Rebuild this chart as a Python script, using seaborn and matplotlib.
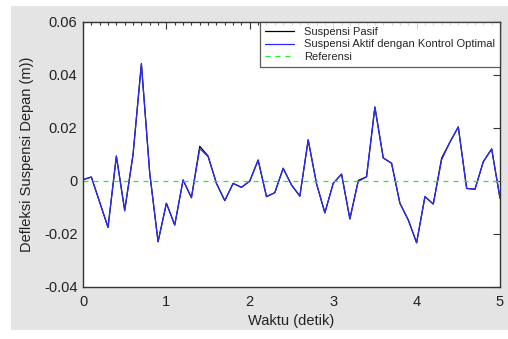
import numpy as np
import pandas as pd
import matplotlib
matplotlib.use("Agg")
import matplotlib.pyplot as plt
import seaborn as sns
from matplotlib.ticker import MultipleLocator
from matplotlib.patches import Rectangle

waktu = [0.0, 0.1, 0.2, 0.3, 0.4, 0.5, 0.6, 0.7, 0.8, 0.9,
         1.0, 1.1, 1.2, 1.3, 1.4, 1.5, 1.6, 1.7, 1.8, 1.9,
         2.0, 2.1, 2.2, 2.3, 2.4, 2.5, 2.6, 2.7, 2.8, 2.9,
         3.0, 3.1, 3.2, 3.3, 3.4, 3.5, 3.6, 3.7, 3.8, 3.9,
         4.0, 4.1, 4.2, 4.3, 4.4, 4.5, 4.6, 4.7, 4.8, 4.9, 5.0]

aktif = [0.0005, 0.0015, -0.008, -0.0175, 0.0094, -0.0113, 0.010, 0.0441, 0.003, -0.0229,
         -0.0084, -0.0166, 0.0004, -0.0063, 0.0122, 0.0092, -0.0009, -0.0074, -0.0009, -0.0024,
         0.0000, 0.0079, -0.0059, -0.0044, 0.0048, -0.0015, -0.0057, 0.0155, -0.001, -0.0120,
         -0.0009, 0.0026, -0.0143, -0.0002, 0.0016, 0.0279, 0.0087, 0.0067, -0.0084, -0.0147,
         -0.0233, -0.0059, -0.0087, 0.0080, 0.0147, 0.0204, -0.0028, -0.0031, 0.0073, 0.0121, -0.0065]

pasif = [0.0005, 0.0015, -0.008, -0.0175, 0.0094, -0.0110, 0.010, 0.0443, 0.003, -0.0229,
         -0.0084, -0.0166, 0.0004, -0.0063, 0.0131, 0.0094, -0.0009, -0.0074, -0.0009, -0.0024,
         0.0000, 0.0079, -0.0059, -0.0044, 0.0048, -0.0015, -0.0057, 0.0155, -0.001, -0.0120,
         -0.0009, 0.0026, -0.0143, 0.0002, 0.0016, 0.0279, 0.0087, 0.0067, -0.0084, -0.0147,
         -0.0233, -0.0059, -0.0087, 0.0086, 0.0147, 0.0204, -0.0028, -0.0031, 0.0073, 0.0121, -0.0065]

referensi = [0.0] * len(waktu)

labels = ["Suspensi Pasif", "Suspensi Aktif dengan Kontrol Optimal", "Referensi"]
ytick_labels = ["-0.04", "-0.02", "0", "0.02", "0.04", "0.06"]
ytick_values = [-0.04, -0.02, 0, 0.02, 0.04, 0.06]

sns.set_style("white")
plt.rcParams['font.family'] = ['Liberation Sans', 'DejaVu Sans']

df = pd.DataFrame({"t": waktu, "pasif": pasif, "aktif": aktif, "ref": referensi})

fig = plt.figure(figsize=(5.08, 3.39), dpi=100)
fig.patch.set_facecolor("white")
fig.patches.append(Rectangle((11 / 508, 1 - 330 / 339), (508 - 11) / 508, (330 - 6) / 339,
                             transform=fig.transFigure, facecolor="#e4e4e4",
                             edgecolor="none", zorder=-10))
ax = fig.add_axes([83 / 508, 1 - 287 / 339, (500 - 83) / 508, (287 - 22) / 339])
ax.set_facecolor("white")

sns.lineplot(data=df, x="t", y="pasif", ax=ax, color="black", lw=0.9, label=labels[0])
sns.lineplot(data=df, x="t", y="aktif", ax=ax, color="#2a2aff", lw=0.9, label=labels[1])
sns.lineplot(data=df, x="t", y="ref", ax=ax, color="#22f022", lw=0.9, label=labels[2],
             linestyle=(0, (4, 4)))

ax.set_xlim(0, 5)
ax.set_ylim(-0.04, 0.06)
ax.xaxis.set_major_locator(MultipleLocator(1))
ax.xaxis.set_minor_locator(MultipleLocator(0.1))
ax.set_yticks(ytick_values)
ax.set_yticklabels(ytick_labels)
ax.tick_params(which="both", direction="in", top=True, right=True, colors="#333333",
               labelcolor="#222222", labelsize=10.5, width=0.8)
ax.tick_params(which="major", length=5)
ax.tick_params(axis="x", which="major", pad=6)
ax.tick_params(axis="y", which="major", pad=4)
ax.tick_params(which="minor", length=2.5)
ax.tick_params(axis="y", which="minor", left=False, right=False)
for s in ax.spines.values():
    s.set_color("#333333")
    s.set_linewidth(1.0)

ax.set_xlabel("Waktu (detik)", fontsize=10.5, color="#222222", labelpad=3)
ax.set_ylabel("Defleksi Suspensi Depan (m))", fontsize=10.5, color="#222222", labelpad=7)

leg = ax.legend(loc="upper right", bbox_to_anchor=(1.0, 1.0), fontsize=8.0, frameon=True,
                fancybox=False, borderaxespad=0, handlelength=2.6, handletextpad=0.9,
                labelspacing=0.22, borderpad=0.45)
leg.get_frame().set_edgecolor("#333333")
leg.get_frame().set_linewidth(0.9)

fig.savefig("out.png", dpi=100, facecolor=fig.get_facecolor())
